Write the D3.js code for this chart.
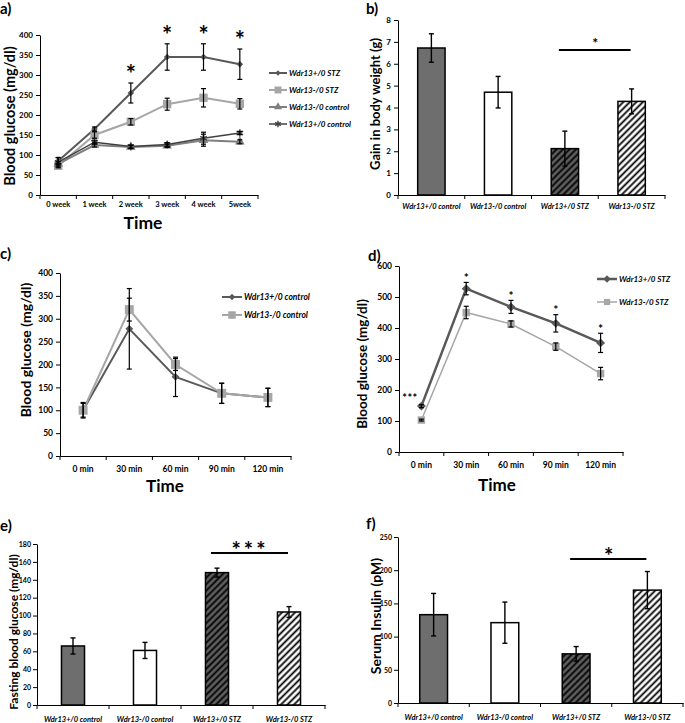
<!DOCTYPE html>
<html><head><meta charset="utf-8">
<script src="https://cdn.jsdelivr.net/npm/d3@7"></script>
<style>
body{margin:0;background:#fff}
svg text{font-family:Lato,"Open Sans",sans-serif;font-weight:700}
</style>
</head><body><script>
// ---------- DATA ----------
const weeks = ["0 week","1 week","2 week","3 week","4 week","5week"];
const aNames = ["Wdr13+/0 STZ","Wdr13-/0 STZ","Wdr13-/0 control","Wdr13+/0 control"];
const aWtSTZ = [85,165,255,345,345,327];
const aWtSTZErr = [8,5,25,33,33,38];
const aKoSTZ = [73,150,183,227,243,228];
const aKoSTZErr = [5,8,8,15,23,13];
const aKoCtrl = [78,125,120,123,137,133];
const aKoCtrlErr = [5,5,4,4,15,5];
const aWtCtrl = [82,132,121,126,142,155];
const aWtCtrlErr = [12,5,4,5,15,4];
const aTicks = [0,50,100,150,200,250,300,350,400];
const aSigIdx = [2,3,4,5];

const groups = ["Wdr13+/0 control","Wdr13-/0 control","Wdr13+/0 STZ","Wdr13-/0 STZ"];
const bGain = [6.72,4.7,2.12,4.28];
const bGainErr = [0.65,0.72,0.8,0.57];
const bTicks = [0,1,2,3,4,5,6,7,8];

const minutes = ["0 min","30 min","60 min","90 min","120 min"];
const cNames = ["Wdr13+/0 control","Wdr13-/0 control"];
const cWtCtrl = [100,278,173,137,128];
const cWtCtrlErr = [17,88,43,22,20];
const cKoCtrl = [100,320,200,137,128];
const cKoCtrlErr = [15,25,13,22,20];
const cTicks = [0,50,100,150,200,250,300,350,400];

const dNames = ["Wdr13+/0 STZ","Wdr13-/0 STZ"];
const dWtSTZ = [148,527,468,415,352];
const dWtSTZErr = [5,20,21,28,31];
const dKoSTZ = [103,450,413,340,253];
const dKoSTZErr = [3,20,10,12,20];
const dTicks = [0,100,200,300,400,500,600];
const dSigIdx = [1,2,3,4];

const eFasting = [66,61,148,104];
const eFastingErr = [9,9,5,6];
const eTicks = [0,20,40,60,80,100,120,140,160,180];

const fInsulin = [133,121,74,170];
const fInsulinErr = [32,31,11,28];
const fTicks = [0,50,100,150,200,250];

// ---------- SETUP ----------
const FONT = 'Lato, "Open Sans", sans-serif';
const svg = d3.select("body").append("svg").attr("width",685).attr("height",723);
svg.append("rect").attr("width",685).attr("height",723).attr("fill","#fff");
const defs = svg.append("defs");
function hatch(id,bg){
  const p = defs.append("pattern").attr("id",id).attr("patternUnits","userSpaceOnUse")
    .attr("width",4.6).attr("height",4.6).attr("patternTransform","rotate(45)");
  p.append("rect").attr("width",4.6).attr("height",4.6).attr("fill",bg);
  p.append("rect").attr("x",1.4).attr("y",-1).attr("width",1.8).attr("height",6.6).attr("fill","#000");
}
hatch("hDark","#5f5f5f");
hatch("hLight","#fff");
const barFills = ["#6e6e6e","#ffffff","url(#hDark)","url(#hLight)"];

function styleAxis(sel, fs){
  sel.attr("font-family",FONT).attr("font-size",fs).attr("font-weight",700);
  sel.selectAll("text").attr("fill","#000");
  sel.selectAll("line,path").attr("stroke","#000");
}
function sym(type,size){
  const t = {diamond:d3.symbolSquare, square:d3.symbolSquare, triangle:d3.symbolTriangle,
             star:(d3.symbolAsterisk||d3.symbolCross)}[type];
  return d3.symbol().type(t).size(size)();
}
function drawMarker(g,x,y,s){
  const p = g.append("path").attr("d",sym(s.sym,s.size))
    .attr("transform",`translate(${x},${y})` + (s.sym==="diamond"?" rotate(45)":""));
  if(s.sym==="star") p.attr("fill","none").attr("stroke",s.color).attr("stroke-width",1.4);
  else p.attr("fill",s.color).attr("stroke","none");
}
function label(txt,x,y){
  svg.append("text").attr("x",x).attr("y",y).attr("font-size",15).text(txt);
}
function yTitle(txt,x,y,fs){
  svg.append("text").attr("transform",`translate(${x},${y}) rotate(-90)`)
    .attr("text-anchor","middle").attr("dominant-baseline","central")
    .attr("font-size",fs).text(txt);
}
function xTitle(txt,x,y,fs){
  svg.append("text").attr("x",x).attr("y",y).attr("text-anchor","middle")
    .attr("font-size",fs).text(txt);
}
function star(txt,x,cy,fs,ls){
  svg.append("text").attr("x",x).attr("y",cy+0.55*fs).attr("text-anchor","middle")
    .attr("font-size",fs).attr("letter-spacing",ls||0).text(txt);
}

// ---------- LINE PANEL ----------
function linePanel(o){
  const g = svg.append("g");
  const x = d3.scaleBand().domain(o.cats).range([o.x0,o.x1]);
  const y = d3.scaleLinear().domain([0,o.max]).range([o.yBot,o.yTop]);
  const ya = g.append("g").attr("transform",`translate(${o.x0},0)`)
    .call(d3.axisLeft(y).tickValues(o.ticks).tickSize(4).tickSizeOuter(0).tickPadding(3));
  styleAxis(ya,o.tickFs);
  const xa = g.append("g").attr("transform",`translate(0,${o.yBot})`)
    .call(d3.axisBottom(x).tickSize(0).tickSizeOuter(0).tickPadding(o.xPad));
  styleAxis(xa,o.xFs);
  g.selectAll("line.bt").data(d3.range(o.cats.length+1)).join("line").attr("class","bt")
    .attr("x1",i=>o.x0+i*x.step()).attr("x2",i=>o.x0+i*x.step())
    .attr("y1",o.yBot).attr("y2",o.yBot+4).attr("stroke","#000");
  const cx = i=>x(o.cats[i])+x.bandwidth()/2;
  o.series.forEach(s=>{
    g.append("path").datum(s.v)
      .attr("d",d3.line().x((d,i)=>cx(i)).y(d=>y(d)))
      .attr("fill","none").attr("stroke",s.color).attr("stroke-width",s.w);
  });
  o.series.forEach(s=>{
    s.v.forEach((d,i)=>drawMarker(g,cx(i),y(d),s));
  });
  o.series.forEach(s=>{
    s.v.forEach((d,i)=>{
      const e = s.e[i], X = cx(i);
      g.append("line").attr("x1",X).attr("x2",X).attr("y1",y(d-e)).attr("y2",y(d+e))
        .attr("stroke","#000").attr("stroke-width",1.2);
      [d-e,d+e].forEach(v=>g.append("line").attr("x1",X-2.5).attr("x2",X+2.5)
        .attr("y1",y(v)).attr("y2",y(v)).attr("stroke","#000").attr("stroke-width",1.2));
    });
  });
  // legend
  o.series.forEach((s,i)=>{
    const ly = o.leg.y + i*o.leg.dy;
    g.append("line").attr("x1",o.leg.x).attr("x2",o.leg.x+o.leg.len).attr("y1",ly).attr("y2",ly)
      .attr("stroke",s.color).attr("stroke-width",s.w);
    drawMarker(g,o.leg.x+o.leg.len/2,ly,Object.assign({},s,{size:s.size*0.7}));
    g.append("text").attr("x",o.leg.x+o.leg.len+2).attr("y",ly).attr("dominant-baseline","central")
      .attr("font-size",o.leg.fs).attr("font-style","italic").text(s.name);
  });
  return {x,y,cx};
}

// ---------- BAR PANEL ----------
function barPanel(o){
  const g = svg.append("g");
  const x = d3.scaleBand().domain(groups).range([o.x0,o.x1]);
  const y = d3.scaleLinear().domain([0,o.max]).range([o.yBot,o.yTop]);
  const ya = g.append("g").attr("transform",`translate(${o.x0},0)`)
    .call(d3.axisLeft(y).tickValues(o.ticks).tickSize(4).tickSizeOuter(0).tickPadding(o.yPad||3));
  styleAxis(ya,o.tickFs);
  const cx = i=>x(groups[i])+x.bandwidth()/2;
  const bw = x.step()*o.ratio;
  g.selectAll("rect.bar").data(o.vals).join("rect").attr("class","bar")
    .attr("x",(d,i)=>cx(i)-bw/2).attr("width",bw)
    .attr("y",d=>y(d)).attr("height",d=>o.yBot-y(d))
    .attr("fill",(d,i)=>barFills[i]).attr("stroke","#000").attr("stroke-width",1.5);
  const xa = g.append("g").attr("transform",`translate(0,${o.yBot})`)
    .call(d3.axisBottom(x).tickSize(0).tickSizeOuter(0).tickPadding(o.xPad));
  styleAxis(xa,o.xFs);
  xa.selectAll("text").attr("font-style","italic");
  g.selectAll("line.bt").data(d3.range(groups.length+1)).join("line").attr("class","bt")
    .attr("x1",i=>o.x0+i*x.step()).attr("x2",i=>o.x0+i*x.step())
    .attr("y1",o.yBot).attr("y2",o.yBot+4).attr("stroke","#000");
  o.vals.forEach((d,i)=>{
    const e=o.errs[i], X=cx(i);
    g.append("line").attr("x1",X).attr("x2",X).attr("y1",y(d-e)).attr("y2",y(d+e))
      .attr("stroke","#000").attr("stroke-width",1.4);
    [d-e,d+e].forEach(v=>g.append("line").attr("x1",X-2.5).attr("x2",X+2.5)
      .attr("y1",y(v)).attr("y2",y(v)).attr("stroke","#000").attr("stroke-width",1.4));
  });
  // significance bracket
  const ly = y(o.sig.v);
  g.append("line").attr("x1",cx(2)-6).attr("x2",cx(3)-1).attr("y1",ly).attr("y2",ly)
    .attr("stroke","#000").attr("stroke-width",2);
  star(o.sig.txt,(cx(2)+cx(3))/2-3,ly-o.sig.off,o.sig.fs,o.sig.ls);
  return {x,y,cx};
}

// ---------- PANEL a ----------
const A = linePanel({
  cats:weeks, x0:40, x1:258, yTop:35, yBot:195, max:400, ticks:aTicks, tickFs:8, xFs:7.5, xPad:7,
  series:[
    {name:aNames[0],v:aWtSTZ,e:aWtSTZErr,color:"#595959",w:2,sym:"diamond",size:22},
    {name:aNames[1],v:aKoSTZ,e:aKoSTZErr,color:"#a6a6a6",w:2,sym:"square",size:70},
    {name:aNames[2],v:aKoCtrl,e:aKoCtrlErr,color:"#7f7f7f",w:2,sym:"triangle",size:40},
    {name:aNames[3],v:aWtCtrl,e:aWtCtrlErr,color:"#404040",w:1.5,sym:"star",size:40}
  ],
  leg:{x:269,len:18,y:73,dy:17,fs:8}
});
aSigIdx.forEach(i=>star("*",A.cx(i),A.y(aWtSTZ[i]+aWtSTZErr[i])-13,24));
label("a)",0,14);
yTitle("Blood glucose (mg/dl)",9,116,14.5);
xTitle("Time",143,229,17.5);

// ---------- PANEL b ----------
barPanel({x0:398,x1:665,yTop:20,yBot:195,max:8,ticks:bTicks,tickFs:8,xFs:7.5,xPad:9,
  vals:bGain,errs:bGainErr,ratio:0.41,sig:{v:6.63,txt:"*",off:10,fs:14}});
label("b)",366,14);
yTitle("Gain in body weight (g)",375,104,13);

// ---------- PANEL c ----------
linePanel({
  cats:minutes, x0:60, x1:291, yTop:273, yBot:456, max:400, ticks:cTicks, tickFs:8.5, xFs:8.5, xPad:10,
  series:[
    {name:cNames[0],v:cWtCtrl,e:cWtCtrlErr,color:"#595959",w:2,sym:"diamond",size:30},
    {name:cNames[1],v:cKoCtrl,e:cKoCtrlErr,color:"#a6a6a6",w:2,sym:"square",size:80}
  ],
  leg:{x:222,len:20,y:297,dy:18,fs:8.5}
});
label("c)",0,259);
yTitle("Blood glucose (mg/dl)",25,350,14);
xTitle("Time",165,492,17);

// ---------- PANEL d ----------
const D = linePanel({
  cats:minutes, x0:399, x1:623, yTop:266, yBot:452, max:600, ticks:dTicks, tickFs:8.5, xFs:8.5, xPad:10,
  series:[
    {name:dNames[0],v:dWtSTZ,e:dWtSTZErr,color:"#595959",w:2.5,sym:"diamond",size:40},
    {name:dNames[1],v:dKoSTZ,e:dKoSTZErr,color:"#a6a6a6",w:1.5,sym:"square",size:55}
  ],
  leg:{x:597,len:20,y:279,dy:23,fs:8}
});
dSigIdx.forEach(i=>star("*",D.cx(i),D.y(dWtSTZ[i]+dWtSTZErr[i])-7,12));
star("***",410,396,11,0.5);
label("d)",368,261);
yTitle("Blood glucose (mg/dl)",362,364,13.5);
xTitle("Time",497,491,17);

// ---------- PANEL e ----------
barPanel({x0:37,x1:325,yTop:544,yBot:705,max:180,ticks:eTicks,tickFs:7,xFs:7.5,xPad:12,yPad:2,
  vals:eFasting,errs:eFastingErr,ratio:0.32,sig:{v:170,txt:"***",off:7,fs:22,ls:3}});
label("e)",0,531);
yTitle("Fasting blood glucose (mg/dl)",13,632,12);

// ---------- PANEL f ----------
barPanel({x0:398,x1:683,yTop:537,yBot:703,max:250,ticks:fTicks,tickFs:7,xFs:7.5,xPad:12,yPad:2,
  vals:fInsulin,errs:fInsulinErr,ratio:0.39,sig:{v:217,txt:"*",off:7,fs:22}});
label("f)",366,529);
yTitle("Serum Insulin (pM)",375,616,14);
</script></body></html>
